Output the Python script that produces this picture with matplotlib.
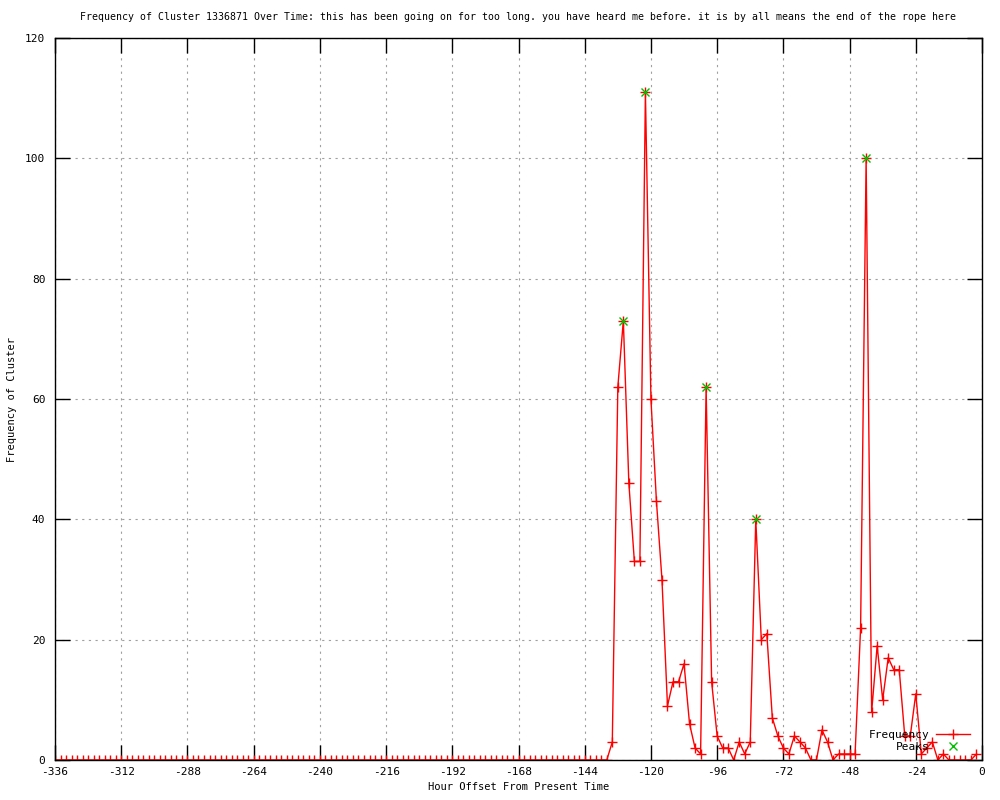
import numpy as np
import matplotlib
matplotlib.use("Agg")
from matplotlib import pyplot as plt

# hourly buckets, every 2 hours from -336 up to -2
hours = np.arange(-336, 0, 2)
# nothing at all before -134, then the burst
quiet = [0] * 101
burst = [3, 62, 73, 46, 33, 33, 111, 60, 43, 30, 9, 13, 13, 16, 6, 2, 1,
         62, 13, 4, 2, 2, 0, 3, 1, 3, 40, 20, 21, 7, 4, 2, 1, 4, 3, 2, 0,
         0, 5, 3, 0, 1, 1, 1, 1, 22, 100, 8, 19, 10, 17, 15, 15, 4, 4, 11,
         1, 2, 3, 0, 1, 0, 0, 0, 0, 0, 1]
freq = quiet + burst

peak_hours = [-130, -122, -100, -82, -42]
peak_vals = [73, 111, 62, 40, 100]

title = ("Frequency of Cluster 1336871 Over Time: this has been going on for too long. "
         "you have heard me before. it is by all means the end of the rope here")

plt.rcParams['font.family'] = ['DejaVu Sans Mono']
plt.rcParams['axes.unicode_minus'] = False

fig = plt.figure(figsize=(10, 8), dpi=100)
ax = fig.add_axes([0.055, 0.05, 0.927, 0.9025])

ax.plot(hours, freq, '-', color='red', lw=1.0, marker='+', ms=7, mew=1.0,
        label='Frequency')
ax.plot(peak_hours, peak_vals, 'x', color='#00c000', ms=6, mew=1.0,
        label='Peaks')

ax.set_xlim(-336, 0)
ax.set_ylim(0, 120)
ax.set_xticks(np.arange(-336, 1, 24))
ax.set_yticks(np.arange(0, 121, 20))
ax.grid(True, color='#a0a0a0', linestyle=(0, (2, 4)), lw=0.8)
ax.tick_params(direction='in', length=11, width=1, labelsize=8,
               top=True, right=True, pad=5)
ax.tick_params(axis='y', pad=7)
for s in ax.spines.values():
    s.set_linewidth(1)

ax.set_title(title, fontsize=7.1, pad=13)
ax.set_xlabel("Hour Offset From Present Time", fontsize=7.5, labelpad=4)
ax.set_ylabel("Frequency of Cluster", fontsize=7.5, labelpad=6)

ax.legend(loc='lower right', bbox_to_anchor=(0.995, 0.0), frameon=False,
          markerfirst=False, fontsize=8, handlelength=3, borderaxespad=0.3,
          labelspacing=0.2, handletextpad=0.6)

fig.savefig("out.png", dpi=100)
